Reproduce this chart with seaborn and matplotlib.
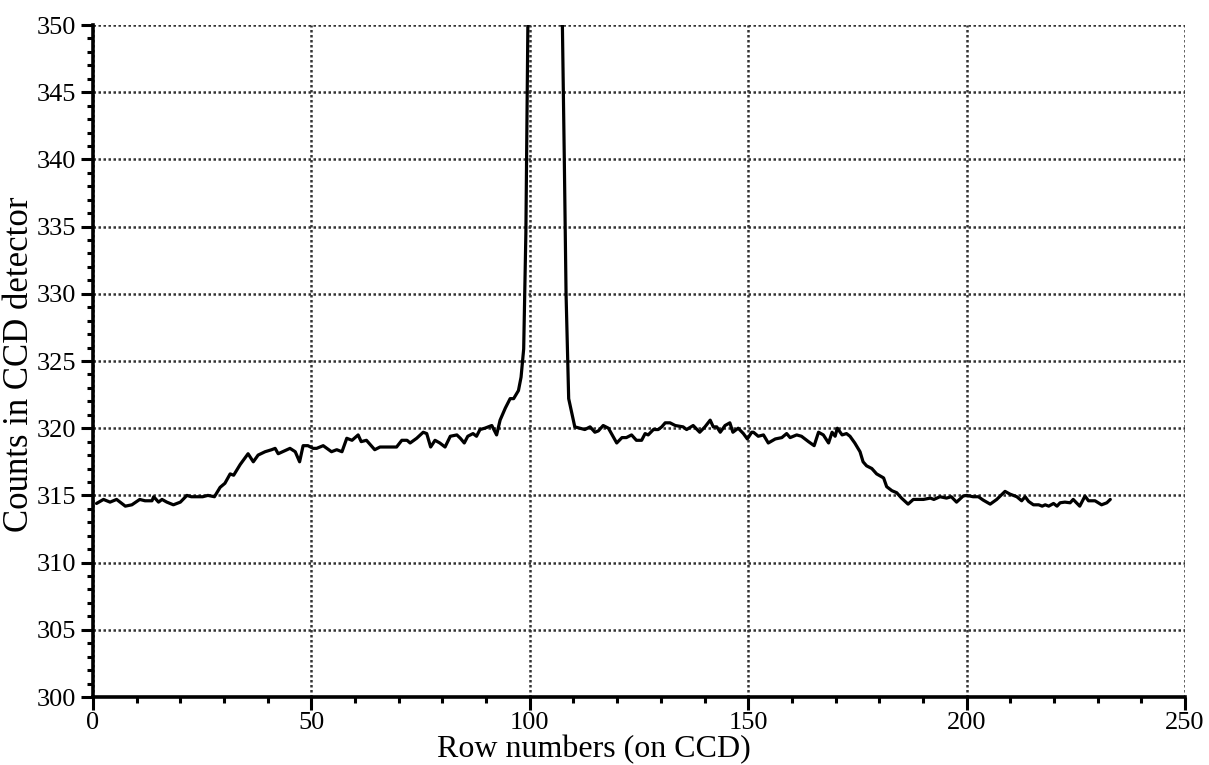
import matplotlib
matplotlib.use("Agg")
import matplotlib.pyplot as plt
import pandas as pd
import seaborn as sns
from matplotlib.ticker import MultipleLocator

# Row numbers on the CCD
row = [0.8, 2.4, 3.9, 5.4, 7.4, 8.9, 10.7, 11.9, 13.5, 13.9, 15.0, 15.8, 16.9, 18.4, 20.0,
       21.5, 22.5, 25.1, 26.3, 27.8, 29.1, 30.2, 31.4, 32.2, 33.7, 35.5, 36.7, 37.8, 39.4,
       40.9, 41.7, 42.4, 44.4, 45.1, 46.3, 47.3, 48.1, 49.2,
       50.4, 51.2, 52.7, 54.6, 55.8, 57.0, 58.1, 59.3, 60.7, 61.4, 62.6, 64.5, 65.7, 69.5,
       70.7, 71.9, 72.6, 74.1, 75.6, 76.4, 77.3, 78.3, 79.4, 80.6, 81.8, 83.3, 84.1, 85.0,
       85.8, 87.0, 87.8, 88.6, 89.7, 91.3, 92.4, 93.2, 94.4, 95.5, 96.3, 97.4, 98.0, 98.6,
       99.1, 100.0, 103.4, 106.8, 107.9, 108.3, 108.9,
       110.3, 111.5, 112.6, 113.8, 114.9, 115.7, 116.8, 118.0, 118.7, 119.9, 121.1, 122.1,
       123.3, 124.4, 125.6, 126.4, 127.1, 128.3, 129.4, 130.2, 131.0, 132.1, 133.3, 135.1,
       135.9, 137.4, 138.9, 140.1, 141.3, 142.0, 142.8, 143.6, 144.7, 145.8, 146.5, 147.7,
       148.9, 149.8, 150.8, 151.2, 152.3, 153.5, 154.6, 156.2, 157.7, 158.8, 159.6, 161.1,
       162.2, 163.8, 165.1, 166.1, 167.2, 168.4, 169.2, 169.9, 170.4, 171.5, 172.5, 173.3,
       174.4, 175.6, 176.3, 177.1, 178.3, 179.4, 181.0, 181.7, 182.9, 184.0, 185.1, 186.6,
       187.8, 190.1, 191.7, 192.5, 193.9, 195.4, 196.5, 197.7, 199.2, 200.0, 201.5, 202.7,
       203.8, 205.4, 206.9, 208.8, 209.9, 211.5, 212.6, 213.4, 214.2, 215.3, 216.5, 217.3,
       218.0, 218.8, 219.9, 220.7, 221.4, 222.5, 223.7, 224.4, 225.9, 227.1, 227.9, 229.4,
       230.9, 232.1, 232.9]

# Counts in the CCD detector
counts = [314.4, 314.7, 314.5, 314.7, 314.2, 314.3, 314.7, 314.6, 314.6, 314.9, 314.5, 314.7,
          314.5, 314.3, 314.5, 315.0, 314.9, 314.9, 315.0, 314.9, 315.6, 315.9, 316.6, 316.5,
          317.3, 318.1, 317.5, 318.0, 318.25, 318.4, 318.5, 318.1, 318.4, 318.5, 318.25, 317.5,
          318.7, 318.7,
          318.5, 318.5, 318.7, 318.25, 318.4, 318.25, 319.25, 319.1, 319.5, 319.0, 319.1, 318.4,
          318.6, 318.6, 319.1, 319.1, 318.9, 319.25, 319.7, 319.6, 318.6, 319.1, 318.9, 318.6,
          319.4, 319.5, 319.25, 318.9, 319.4, 319.6, 319.4, 319.9, 320.0, 320.2, 319.5, 320.6,
          321.5, 322.2, 322.2, 322.8, 323.8, 325.9,
          334.5, 365.0, 420.0, 365.0, 340.0, 330.0, 322.2,
          320.1, 320.0, 319.9, 320.1, 319.7, 319.8, 320.2, 320.0, 319.6, 318.9, 319.3, 319.3,
          319.5, 319.1, 319.1, 319.6, 319.5, 319.9, 319.9, 320.1, 320.4, 320.4, 320.2, 320.1,
          319.9, 320.2, 319.7, 320.1, 320.6, 320.1, 320.1, 319.7, 320.2, 320.4, 319.7, 320.0,
          319.6, 319.2, 319.7, 319.7, 319.4, 319.5, 318.9, 319.2, 319.3, 319.6, 319.3, 319.5,
          319.4, 319.0, 318.7, 319.7, 319.5, 318.9, 319.7, 319.4, 320.0, 319.5, 319.6, 319.4,
          318.9, 318.25, 317.5, 317.2, 317.0, 316.6, 316.3, 315.65, 315.35, 315.2, 314.8, 314.35,
          314.7, 314.7, 314.8, 314.7, 314.9, 314.8, 314.9, 314.5, 314.95, 315.0, 314.9, 314.9,
          314.65, 314.35, 314.7, 315.3, 315.1, 314.9, 314.6, 314.9, 314.55, 314.3, 314.3, 314.2,
          314.3, 314.2, 314.4, 314.2, 314.45, 314.5, 314.45, 314.7, 314.2, 314.95, 314.6, 314.6,
          314.3, 314.45, 314.7]

x_ticks = [0, 50, 100, 150, 200, 250]
y_ticks = [300, 305, 310, 315, 320, 325, 330, 335, 340, 345, 350]

sns.set_theme(style="white")
plt.rcParams["font.family"] = ["Liberation Serif", "DejaVu Serif"]

fig = plt.figure(figsize=(12.09, 7.65), dpi=100)
ax = fig.add_axes([93 / 1209, 68 / 765, 1092 / 1209, 672 / 765])

df = pd.DataFrame({"row": row, "counts": counts})
sns.lineplot(data=df, x="row", y="counts", ax=ax, color="black", linewidth=2.3,
             estimator=None, sort=False)

ax.set_xlim(x_ticks[0], x_ticks[-1])
ax.set_ylim(y_ticks[0], y_ticks[-1])
ax.set_xticks(x_ticks)
ax.set_yticks(y_ticks)
ax.xaxis.set_minor_locator(MultipleLocator(10))
ax.yaxis.set_minor_locator(MultipleLocator(1))

ax.grid(True, which="major", linestyle=(0, (1, 1)), color="0.2", linewidth=1.8)
ax.grid(False, which="minor")

for s in ["top", "right"]:
    ax.spines[s].set_visible(False)
for s in ["left", "bottom"]:
    ax.spines[s].set_color("black")
    ax.spines[s].set_linewidth(2.6)

ax.tick_params(axis="both", which="major", direction="out", length=9, width=2.2,
               color="black", labelsize=19, labelcolor="black", pad=3,
               bottom=True, left=True)
ax.tick_params(axis="both", which="minor", direction="out", length=4, width=2.2,
               color="black", bottom=True, left=True)
ax.tick_params(axis="x", which="major", pad=2)

ax.set_xlabel("Row numbers (on CCD)", fontsize=23, color="black")
ax.set_ylabel("Counts in CCD detector", fontsize=25, color="black")
ax.xaxis.set_label_coords(0.459, -0.057)
ax.yaxis.set_label_coords(-0.052, 0.495)

fig.savefig("out.png", dpi=100, facecolor="white")
